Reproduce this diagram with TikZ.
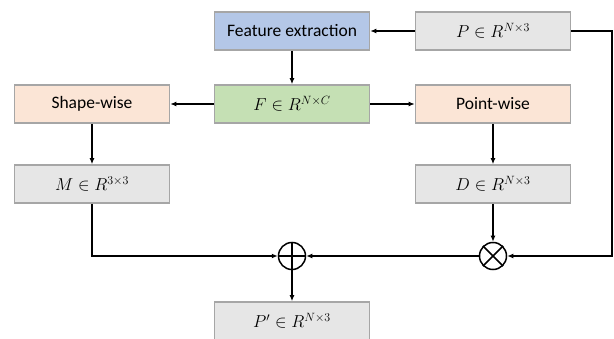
\documentclass[tikz,border=0pt]{standalone}
\usepackage{fontspec}
\setmainfont{Carlito}
\usetikzlibrary{arrows.meta}
\definecolor{bordergray}{HTML}{A6A6A6}
\definecolor{fillblue}{HTML}{B4C7E7}
\definecolor{fillgreen}{HTML}{C5E0B4}
\definecolor{fillpeach}{HTML}{FBE5D6}
\definecolor{fillgray}{HTML}{E6E6E6}
\tikzset{
  blk/.style={draw=bordergray, line width=1.6pt, minimum width=155pt, minimum height=38pt, inner sep=0pt, font=\fontsize{17.5}{21}\selectfont},
  blueblk/.style={blk, fill=fillblue},
  greenblk/.style={blk, fill=fillgreen},
  peachblk/.style={blk, fill=fillpeach},
  grayblk/.style={blk, fill=fillgray},
  opnode/.style={draw=black, line width=1.5pt, circle, minimum size=27pt, inner sep=0pt},
  conn/.style={line width=1.5pt, -{Latex[length=6pt,width=5pt]}},
  plainline/.style={line width=1.5pt}
}
\begin{document}
\begin{tikzpicture}[x=1pt,y=-1pt]
\useasboundingbox (0,0) rectangle (614,339);
\node[blueblk] (fe) at (292,31) {Feature extraction};
\node[grayblk] (P) at (493,31) {$P\in R^{N\times 3}$};
\node[peachblk] (sw) at (92,104) {Shape-wise};
\node[greenblk] (F) at (292,104) {$F\in R^{N\times C}$};
\node[peachblk] (pw) at (493,104) {Point-wise};
\node[grayblk] (M) at (92,184) {$M\in R^{3\times 3}$};
\node[grayblk] (D) at (493,184) {$D\in R^{N\times 3}$};
\node[opnode] (plus) at (292,256) {};
\node[opnode] (times) at (493,256) {};
\node[grayblk] (Pp) at (292,321) {$P'\in R^{N\times 3}$};
\draw[plainline] (plus.north) -- (plus.south) (plus.west) -- (plus.east);
\draw[plainline] (times.45) -- (times.225) (times.135) -- (times.315);
\coordinate (rc) at (612,256);
\draw[conn] (P.west) -- (fe.east);
\draw[conn] (fe.south) -- (F.north);
\draw[conn] (F.west) -- (sw.east);
\draw[conn] (F.east) -- (pw.west);
\draw[conn] (sw.south) -- (M.north);
\draw[conn] (pw.south) -- (D.north);
\draw[conn] (M.south) |- (plus.west);
\draw[conn] (D.south) -- (times.north);
\draw[conn] (times.west) -- (plus.east);
\draw[conn] (P.east) -| (rc) -- (times.east);
\draw[conn] (plus.south) -- (Pp.north);
\end{tikzpicture}
\end{document}
